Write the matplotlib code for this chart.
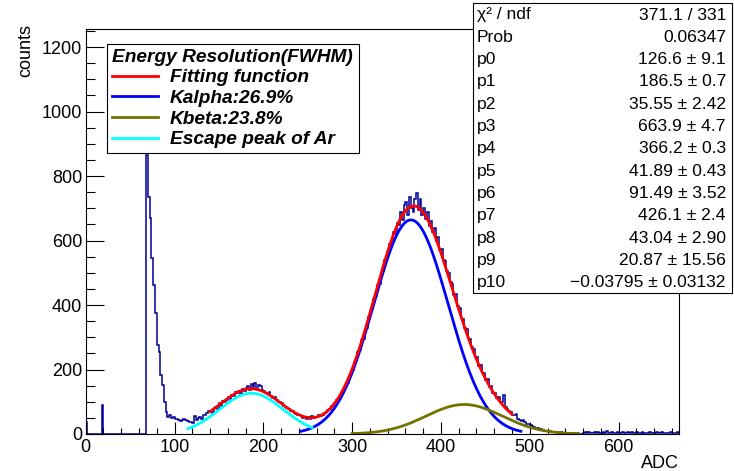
import matplotlib
import numpy as np
matplotlib.use("Agg")
import matplotlib.pyplot as plt
from matplotlib.font_manager import FontProperties
from matplotlib.lines import Line2D
from matplotlib.patches import Rectangle
from matplotlib.ticker import MultipleLocator

plt.rcParams["font.family"] = ["Liberation Sans", "DejaVu Sans"]

W, H = 734, 471

# histogram, 2 ADC per bin, starting at 0
bin_width = 2
counts = [
    38, 0, 0, 0, 0, 0, 0, 0, 0, 90,
    0, 0, 0, 0, 0, 0, 0, 0, 0, 0,
    0, 0, 0, 0, 0, 0, 0, 0, 0, 0,
    0, 0, 0, 0, 865, 735, 670, 546, 462, 376,
    276, 255, 183, 152, 100, 69, 54, 59, 50, 52,
    48, 45, 42, 40, 44, 48, 42, 40, 38, 36,
    34, 55, 44, 50, 52, 48, 60, 58, 66, 70,
    72, 66, 80, 84, 78, 95, 88, 102, 98, 106,
    115, 108, 122, 118, 130, 126, 134, 124, 140, 132,
    142, 150, 138, 155, 146, 158, 141, 152, 148, 136,
    134, 128, 124, 130, 118, 112, 116, 104, 100, 98,
    96, 88, 84, 80, 76, 72, 70, 64, 62, 58,
    60, 56, 50, 54, 48, 52, 46, 56, 50, 54,
    52, 58, 55, 60, 64, 68, 74, 78, 86, 90,
    96, 104, 110, 118, 128, 138, 150, 158, 172, 186,
    198, 222, 228, 254, 262, 290, 296, 324, 330, 362,
    380, 388, 420, 428, 462, 466, 500, 505, 540, 545,
    560, 590, 592, 625, 620, 655, 648, 690, 664, 710,
    720, 680, 735, 700, 690, 728, 748, 695, 730, 680,
    700, 668, 690, 645, 662, 628, 640, 600, 610, 570,
    575, 540, 535, 505, 500, 470, 465, 430, 435, 398,
    392, 360, 358, 330, 325, 298, 295, 270, 265, 240,
    238, 212, 214, 190, 188, 168, 170, 145, 150, 128,
    126, 112, 114, 100, 98, 120, 84, 78, 70, 68,
    60, 58, 62, 48, 44, 40, 42, 36, 32, 30,
    28, 24, 22, 20, 18, 16, 14, 12, 10, 9,
    8, 9, 6, 7, 5, 6, 4, 5, 3, 4,
    3, 2, 3, 1, 2, 1, 2, 1, 0, 1,
    4, 6, 3, 5, 2, 4, 6, 3, 5, 4,
    3, 5, 4, 8, 3, 2, 5, 4, 3, 6,
    4, 3, 5, 2, 4, 6, 3, 5, 4, 2,
    5, 3, 4, 7, 2, 4, 3, 5, 2, 4,
    3, 5, 2, 4, 6, 3, 2, 4, 3, 5,
    2, 4, 3, 6,
]

# fit parameters from the stats box
escape_par = [126.6, 186.5, 35.55]   # p0..p2
kalpha_par = [663.9, 366.2, 41.89]   # p3..p5
kbeta_par = [91.49, 426.1, 43.04]    # p6..p8
bkg_par = [20.87, -0.03795]          # p9, p10

fit_range = (140, 480)
escape_range = (115, 255)
kalpha_range = (242, 490)
kbeta_range = (300, 555)

legend_title = "Energy Resolution(FWHM)"
legend_labels = ["Fitting function", "Kalpha:26.9%", "Kbeta:23.8%", "Escape peak of Ar"]

stats_names = ["\u03c7\u00b2 / ndf", "Prob", "p0", "p1", "p2", "p3", "p4",
               "p5", "p6", "p7", "p8", "p9", "p10"]
stats_values = ["371.1 / 331", "0.06347", "126.6 \u00b1 9.1", "186.5 \u00b1 0.7",
                "35.55 \u00b1 2.42", "663.9 \u00b1 4.7", "366.2 \u00b1 0.3",
                "41.89 \u00b1 0.43", "91.49 \u00b1 3.52", "426.1 \u00b1 2.4",
                "43.04 \u00b1 2.90", "20.87 \u00b1 15.56",
                "\u22120.03795 \u00b1 0.03132"]


def gaus(x, p):
    return p[0] * np.exp(-0.5 * ((x - p[1]) / p[2]) ** 2)


def total(x):
    return gaus(x, escape_par) + gaus(x, kalpha_par) + gaus(x, kbeta_par) + bkg_par[0] + bkg_par[1] * x


def fx(px):
    return px / W


def fy(py):
    return 1 - py / H


fig = plt.figure(figsize=(W / 100, H / 100), dpi=100)
ax = fig.add_axes([fx(85.7), fy(434), (679 - 85.7) / W, (434 - 29) / H])

edges = np.arange(len(counts) + 1) * bin_width
ax.stairs(counts, edges, color="#000099", linewidth=1.1)

x = np.linspace(*kalpha_range, 200)
ax.plot(x, gaus(x, kalpha_par), color="#0000ff", linewidth=2)
x = np.linspace(*kbeta_range, 200)
ax.plot(x, gaus(x, kbeta_par), color="#737300", linewidth=2)
x = np.linspace(*escape_range, 200)
ax.plot(x, gaus(x, escape_par), color="#00ffff", linewidth=2)
x = np.linspace(*fit_range, 300)
ax.plot(x, total(x), color="#ff0000", linewidth=2)

ax.set_xlim(0, 668)
ax.set_ylim(0, 1256)
ax.xaxis.set_major_locator(MultipleLocator(100))
ax.xaxis.set_minor_locator(MultipleLocator(20))
ax.yaxis.set_major_locator(MultipleLocator(200))
ax.yaxis.set_minor_locator(MultipleLocator(50))
ax.tick_params(axis="x", which="major", direction="in", length=8.6, width=0.8, labelsize=13, pad=3.4)
ax.tick_params(axis="x", which="minor", direction="in", length=4.3, width=0.8)
ax.tick_params(axis="y", which="major", direction="in", length=13, width=0.8, labelsize=13, pad=2.6)
ax.tick_params(axis="y", which="minor", direction="in", length=6.5, width=0.8)
for spine in ax.spines.values():
    spine.set_linewidth(0.8)

fig.text(fx(679), fy(463), "ADC", ha="right", va="center", fontsize=13)
fig.text(fx(26), fy(24), "counts", ha="center", va="top", rotation=90, fontsize=13)

# legend
bi = FontProperties(family="Liberation Sans", weight="bold", style="italic", size=13.8)
handles = [Line2D([], [], color=c, linewidth=2) for c in ["#ff0000", "#0000ff", "#737300", "#00ffff"]]
leg = ax.legend(handles, legend_labels, title=legend_title, prop=bi, title_fontproperties=bi,
                loc="upper left", bbox_to_anchor=(fx(107), fy(44), (359 - 107) / W, 0),
                bbox_transform=fig.transFigure, mode="expand", borderaxespad=0,
                fancybox=False, edgecolor="black", framealpha=1, alignment="left",
                handlelength=2.4, handletextpad=0.62, borderpad=0.25, labelspacing=0.17)
leg.get_frame().set_linewidth(0.8)

# stats box
fig.add_artist(Rectangle((fx(473), fy(293)), (732 - 473) / W, (293 - 3) / H,
                         transform=fig.transFigure, facecolor="white", edgecolor="black",
                         linewidth=0.8, zorder=10))
for i, (name, value) in enumerate(zip(stats_names, stats_values)):
    yy = fy(15 + i * 22.33)
    fig.text(fx(477), yy, name, ha="left", va="center", fontsize=12.6, zorder=11)
    fig.text(fx(726), yy, value, ha="right", va="center", fontsize=12.6, zorder=11)

fig.savefig("out.png", dpi=100)
plt.close(fig)
